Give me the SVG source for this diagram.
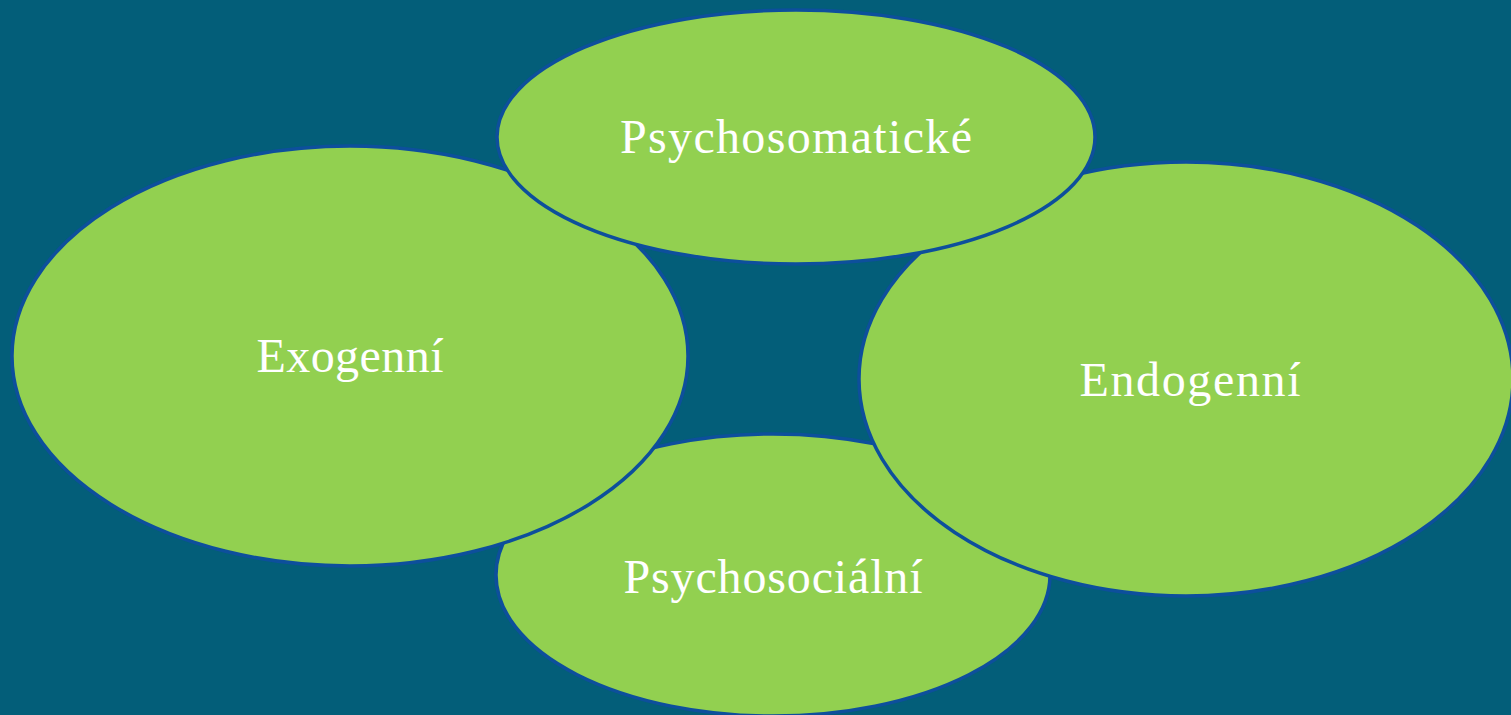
<svg xmlns="http://www.w3.org/2000/svg" width="1511" height="715" viewBox="0 0 1511 715">
<style>
.n{fill:#92D050;stroke:#0D4F9C;stroke-width:3.5}
.t{font-family:"Liberation Serif","DejaVu Serif",serif;font-size:48px;fill:#ffffff;text-anchor:middle}
</style>
<rect width="1511" height="715" fill="#035E79"/>
<g id="connectors"/>
<g id="psychosocialni"><ellipse class="n" cx="773" cy="575" rx="277" ry="141"/><text class="t" x="773" y="593" textLength="299" lengthAdjust="spacing">Psychosociální</text></g>
<g id="exogenni"><ellipse class="n" cx="350" cy="356" rx="338" ry="210"/><text class="t" x="350" y="372" textLength="187" lengthAdjust="spacing">Exogenní</text></g>
<g id="endogenni"><ellipse class="n" cx="1186" cy="379" rx="327" ry="217"/><text class="t" x="1190" y="396" textLength="221" lengthAdjust="spacing">Endogenní</text></g>
<g id="psychosomaticke"><ellipse class="n" cx="796" cy="137" rx="299" ry="127"/><text class="t" x="796" y="153" textLength="352" lengthAdjust="spacing">Psychosomatické</text></g>
</svg>
